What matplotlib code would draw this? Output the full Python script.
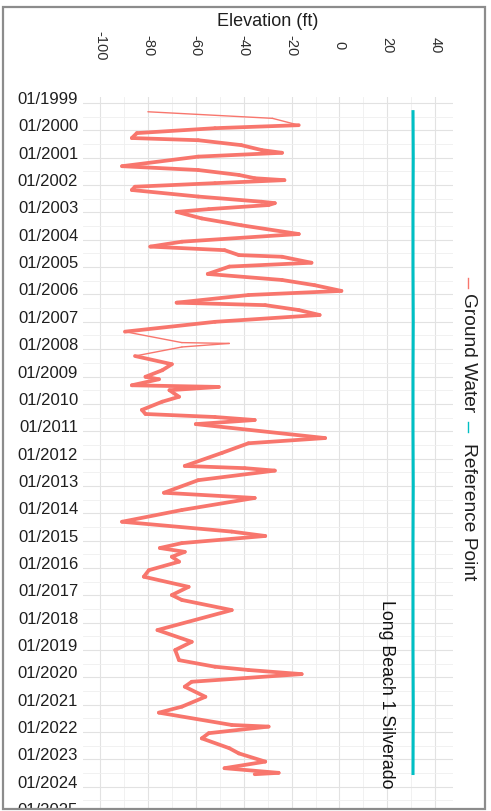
import matplotlib
matplotlib.use("Agg")
import matplotlib.pyplot as plt
from matplotlib.collections import LineCollection
from matplotlib.lines import Line2D
from matplotlib.patches import Rectangle
from matplotlib.transforms import ScaledTranslation
import numpy as np

plt.rcParams['font.family'] = ['Liberation Sans', 'DejaVu Sans']

# ground water elevation (ft) by decimal year
gw_year = [1999.32, 1999.56, 1999.81, 1999.92, 2000.10, 2000.28, 2000.36, 2000.54, 2000.72, 2000.82,
           2000.96, 2001.31, 2001.45, 2001.63, 2001.75, 2001.82, 2001.93, 2002.06, 2002.18, 2002.42,
           2002.61, 2002.66, 2002.73, 2002.88, 2002.98, 2003.22, 2003.47, 2003.79, 2004.07, 2004.25,
           2004.38, 2004.56, 2004.62, 2004.84, 2004.98, 2005.25, 2005.47, 2005.66, 2005.87, 2006.02,
           2006.30, 2006.39, 2006.57, 2006.75, 2007.00, 2007.36, 2007.76, 2007.79, 2007.92, 2008.25,
           2008.55, 2008.77, 2009.01, 2009.10, 2009.32, 2009.38, 2009.50, 2009.74, 2009.92, 2010.22,
           2010.37, 2010.48, 2010.59, 2010.74, 2011.25, 2011.44, 2011.79, 2012.27, 2012.35, 2012.44,
           2012.79, 2013.25, 2013.44, 2013.88, 2014.31, 2014.67, 2014.83, 2015.09, 2015.27, 2015.41,
           2015.59, 2015.77, 2016.08, 2016.32, 2016.69, 2016.99, 2017.17, 2017.54, 2018.27, 2018.70,
           2019.00, 2019.37, 2019.61, 2019.73, 2019.88, 2020.16, 2020.34, 2020.71, 2021.07, 2021.29,
           2021.74, 2021.80, 2022.04, 2022.23, 2022.59, 2022.78, 2023.08, 2023.32, 2023.49, 2023.54]
gw_elev = [-80.0, -28.0, -17.0, -52.0, -84.6, -86.7, -59.0, -41.0, -32.5, -24.0,
           -59.0, -90.8, -59.0, -42.0, -35.4, -23.0, -52.0, -85.4, -86.7, -59.0,
           -32.5, -27.0, -29.6, -54.6, -68.0, -57.5, -41.0, -17.0, -65.8, -79.0,
           -48.0, -42.0, -24.0, -11.7, -46.0, -55.0, -24.0, -10.4, 0.8, -38.0,
           -68.0, -31.0, -17.0, -8.3, -52.0, -89.6, -65.8, -46.0, -65.8, -85.4,
           -70.0, -74.0, -81.0, -75.4, -86.7, -50.4, -71.0, -67.0, -74.0, -82.5,
           -81.0, -52.0, -35.4, -60.0, -6.0, -38.0, -49.0, -64.6, -39.6, -27.0,
           -59.0, -73.3, -35.4, -65.8, -90.8, -45.0, -31.0, -65.8, -75.0, -64.6,
           -70.0, -67.0, -79.6, -81.7, -63.0, -70.0, -65.8, -45.0, -76.0, -61.7,
           -68.6, -67.0, -52.0, -38.0, -15.8, -61.7, -64.6, -56.0, -65.8, -75.4,
           -45.0, -29.6, -54.6, -57.5, -46.0, -42.0, -31.0, -48.0, -25.4, -35.4]

# periods with only sparse readings (drawn thin)
sparse_spans = [(1999.3, 1999.85), (2007.4, 2008.3)]

# reference point elevation (ft)
ref_year = [1999.26, 2001.0, 2003.0, 2005.0, 2007.0, 2009.0, 2011.0, 2013.0,
            2015.0, 2017.0, 2019.0, 2021.0, 2023.57]
ref_elev = [30.7, 30.8, 30.7, 30.7, 30.8, 30.7, 30.7, 30.8, 30.7, 30.7, 30.7, 30.8, 30.7]

years = list(range(1999, 2026))
elev_ticks = [-100, -80, -60, -40, -20, 0, 20, 40]

GW_COLOR = '#F8766D'
REF_COLOR = '#00BFC4'
TEXT_COLOR = '#1f1f1f'

W, H = 491, 811
fig = plt.figure(figsize=(W / 100, H / 100), dpi=100)
fig.patch.set_facecolor('white')

# panel runs past the bottom edge of the figure
top_px, bot_px, left_px, right_px = 97, 830, 83, 453
ax = fig.add_axes([left_px / W, (H - bot_px) / H, (right_px - left_px) / W, (bot_px - top_px) / H])
ax.set_facecolor('white')
for s in ax.spines.values():
    s.set_visible(False)

# grid
ax.set_xticks(elev_ticks)
ax.set_xticks(np.arange(-110, 50, 20), minor=True)
ax.set_yticks(years)
ax.set_yticks(np.arange(1998.5, 2026, 1.0), minor=True)
ax.grid(which='major', color='#e2e2e2', lw=0.8)
ax.grid(which='minor', color='#efefef', lw=0.6)
ax.set_axisbelow(True)
ax.tick_params(which='both', length=0)

# limits after ticks so the tick lists do not widen them
ax.set_xlim(-107.1, 47.4)
ax.set_ylim(2025.58, 1998.78)

# elevation labels on top, turned sideways
ax.xaxis.tick_top()
ax.set_xticklabels([str(v) for v in elev_ticks], rotation=270, fontsize=10.5,
                   color='#2e2e2e', va='center', ha='center')
ax.tick_params(axis='x', pad=37)

ax.set_yticklabels(['01/%d' % y for y in years], fontsize=12, color=TEXT_COLOR)
ax.tick_params(axis='y', pad=3.5)
shift = ScaledTranslation(0, 0.05, fig.dpi_scale_trans)
for lab in ax.get_yticklabels():
    lab.set_transform(lab.get_transform() + shift)

# ground water trace
gy = np.array(gw_year)
ge = np.array(gw_elev)
segs = [[(ge[i], gy[i]), (ge[i + 1], gy[i + 1])] for i in range(len(gy) - 1)]
widths = []
for i in range(len(gy) - 1):
    mid = (gy[i] + gy[i + 1]) / 2
    thin = any(a <= mid <= b for a, b in sparse_spans)
    widths.append(1.0 if thin else 2.7)
lc = LineCollection(segs, colors=GW_COLOR, linewidths=widths, capstyle='round', joinstyle='round')
ax.add_collection(lc)

# reference point
ax.plot(ref_elev, ref_year, color=REF_COLOR, lw=2.2, solid_capstyle='butt')

ax.text(19.8, 2020.6, 'Long Beach 1 Silverado', rotation=270, fontsize=12.8,
        ha='center', va='center', color='#111111')

# axis title
fig.text(267.5 / W, 1 - 21 / H, 'Elevation (ft)', fontsize=13, ha='center', va='center', color=TEXT_COLOR)

# legend
leg_x = 468 / W
for key_y, txt_y, col, name in [(283, 293, GW_COLOR, 'Ground Water'),
                                 (427, 443, REF_COLOR, 'Reference Point')]:
    fig.add_artist(Line2D([leg_x, leg_x], [1 - (key_y - 5) / H, 1 - (key_y + 5) / H],
                          color=col, lw=1.0, transform=fig.transFigure))
    fig.text(leg_x, 1 - txt_y / H, name, rotation=270, fontsize=13.8,
             ha='center', va='top', color=TEXT_COLOR)

# outer frame, with the strip below it blanked
fig.add_artist(Rectangle((0, 0), 1, 2 / H, transform=fig.transFigure,
                         facecolor='white', edgecolor='none', zorder=20))
fig.add_artist(Rectangle((3 / W, 2 / H), 482 / W, 802 / H, transform=fig.transFigure,
                         fill=False, edgecolor='#8c8c8c', lw=1.6, zorder=21))

fig.savefig('out.png', dpi=100)
